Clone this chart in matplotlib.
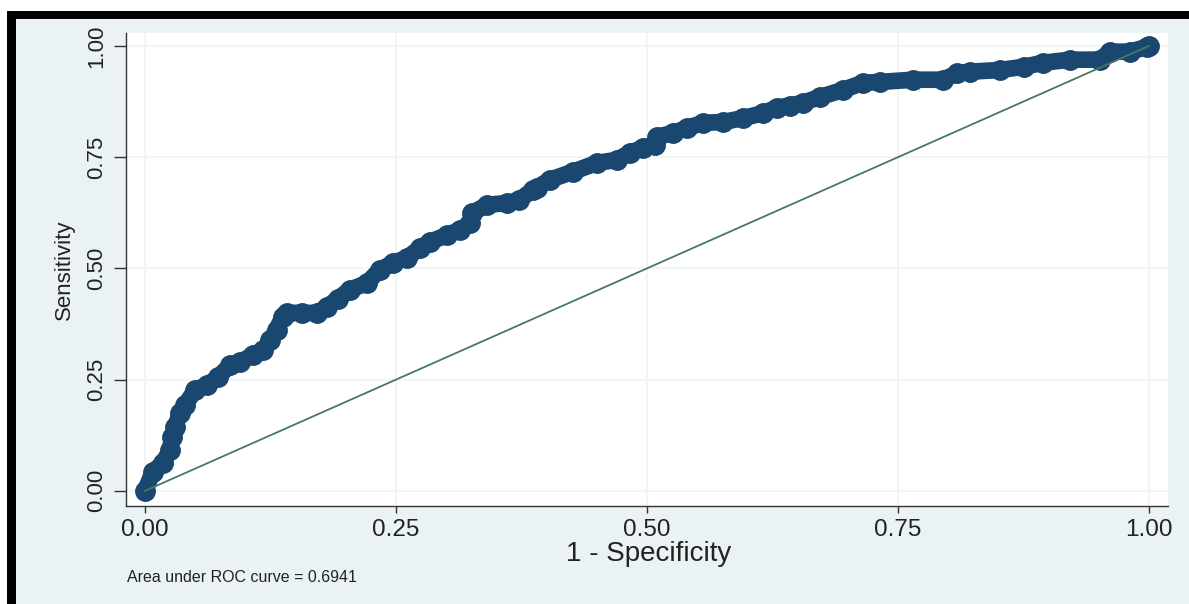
import matplotlib.pyplot as plt
from matplotlib.patches import Rectangle

# ROC points (1 - specificity, sensitivity)
fpr = [0.000, 0.008, 0.018, 0.025, 0.027, 0.030, 0.035, 0.040, 0.050, 0.062,
       0.073, 0.085, 0.095, 0.108, 0.118, 0.125, 0.131, 0.137, 0.141, 0.156,
       0.171, 0.181, 0.192, 0.204, 0.221, 0.234, 0.247, 0.261, 0.274, 0.284,
       0.301, 0.314, 0.324, 0.326, 0.341, 0.361, 0.373, 0.386, 0.390, 0.403,
       0.426, 0.450, 0.470, 0.483, 0.496, 0.508, 0.510, 0.526, 0.540, 0.556,
       0.576, 0.596, 0.616, 0.629, 0.642, 0.655, 0.672, 0.695, 0.715, 0.732,
       0.765, 0.795, 0.809, 0.822, 0.852, 0.875, 0.894, 0.921, 0.951, 0.961,
       0.981, 0.998, 1.000]
tpr = [0.000, 0.043, 0.063, 0.092, 0.121, 0.144, 0.175, 0.193, 0.227, 0.238,
       0.256, 0.283, 0.290, 0.306, 0.317, 0.339, 0.362, 0.391, 0.400, 0.400,
       0.400, 0.413, 0.432, 0.452, 0.467, 0.497, 0.512, 0.524, 0.546, 0.560,
       0.575, 0.587, 0.602, 0.625, 0.643, 0.647, 0.654, 0.676, 0.681, 0.699,
       0.717, 0.737, 0.744, 0.760, 0.771, 0.778, 0.796, 0.804, 0.816, 0.827,
       0.829, 0.838, 0.849, 0.861, 0.866, 0.872, 0.885, 0.901, 0.917, 0.919,
       0.924, 0.924, 0.939, 0.942, 0.946, 0.953, 0.962, 0.969, 0.969, 0.987,
       0.987, 0.998, 1.000]
auc = 0.6941

ticks = [0.0, 0.25, 0.5, 0.75, 1.0]
tick_labels = ['0.00', '0.25', '0.50', '0.75', '1.00']

navy = '#1a476f'
ref_green = '#467a5a'
bg = '#eaf2f3'

plt.rcParams['font.family'] = ['Liberation Sans', 'DejaVu Sans']

W, H = 1189, 604
fig = plt.figure(figsize=(W / 100, H / 100), dpi=100)
fig.patch.set_facecolor('white')

# graph region with thick black frame on top and left
fig.patches.append(Rectangle((16 / W, 0), 1, 1 - 19 / H, transform=fig.transFigure,
                             facecolor=bg, edgecolor='none', zorder=-2))
fig.patches.append(Rectangle((7 / W, 1 - 19 / H), 1, 8 / H, transform=fig.transFigure,
                             facecolor='black', edgecolor='none', zorder=-1))
fig.patches.append(Rectangle((7 / W, 0), 9 / W, 1 - 11 / H, transform=fig.transFigure,
                             facecolor='black', edgecolor='none', zorder=-1))

ax = fig.add_axes([126 / W, 1 - 506 / H, 1042 / W, 473 / H])
ax.set_facecolor('white')
ax.set_xlim(-0.0189, 1.0189)
ax.set_ylim(-0.034, 1.029)

for t in ticks:
    ax.axvline(t, color='#eef3f4', lw=1.2, zorder=0)
    ax.axhline(t, color='#eef3f4', lw=1.2, zorder=0)

ax.plot(fpr, tpr, color=navy, lw=12, marker='o', ms=14, mec=navy,
        solid_joinstyle='round', solid_capstyle='round', zorder=2)
ax.plot([0, 1], [0, 1], color=ref_green, lw=1.3, zorder=3)

for side in ['top', 'right']:
    ax.spines[side].set_visible(False)
for side in ['left', 'bottom']:
    ax.spines[side].set_color('#333333')
    ax.spines[side].set_linewidth(1.0)

ax.set_xticks(ticks)
ax.set_xticklabels(tick_labels, fontsize=17.5, color='#222222')
ax.set_yticks(ticks)
ax.set_yticklabels(tick_labels, fontsize=16, color='#222222', rotation=90, va='center')
ax.tick_params(axis='x', length=5, width=1, color='#333333', pad=4)
ax.tick_params(axis='y', length=9, width=1, color='#333333', pad=4.5)

ax.set_xlabel('1 - Specificity', fontsize=20, color='#222222')
ax.xaxis.set_label_coords(0.502, -0.074)
ax.set_ylabel('Sensitivity', fontsize=16, color='#222222')
ax.yaxis.set_label_coords(-0.049, 0.5)

fig.text(127 / W, 1 - 578 / H, f'Area under ROC curve = {auc:.4f}',
         fontsize=11.5, color='#222222', va='center', ha='left')

fig.savefig('out.png', dpi=100, facecolor=fig.get_facecolor())
